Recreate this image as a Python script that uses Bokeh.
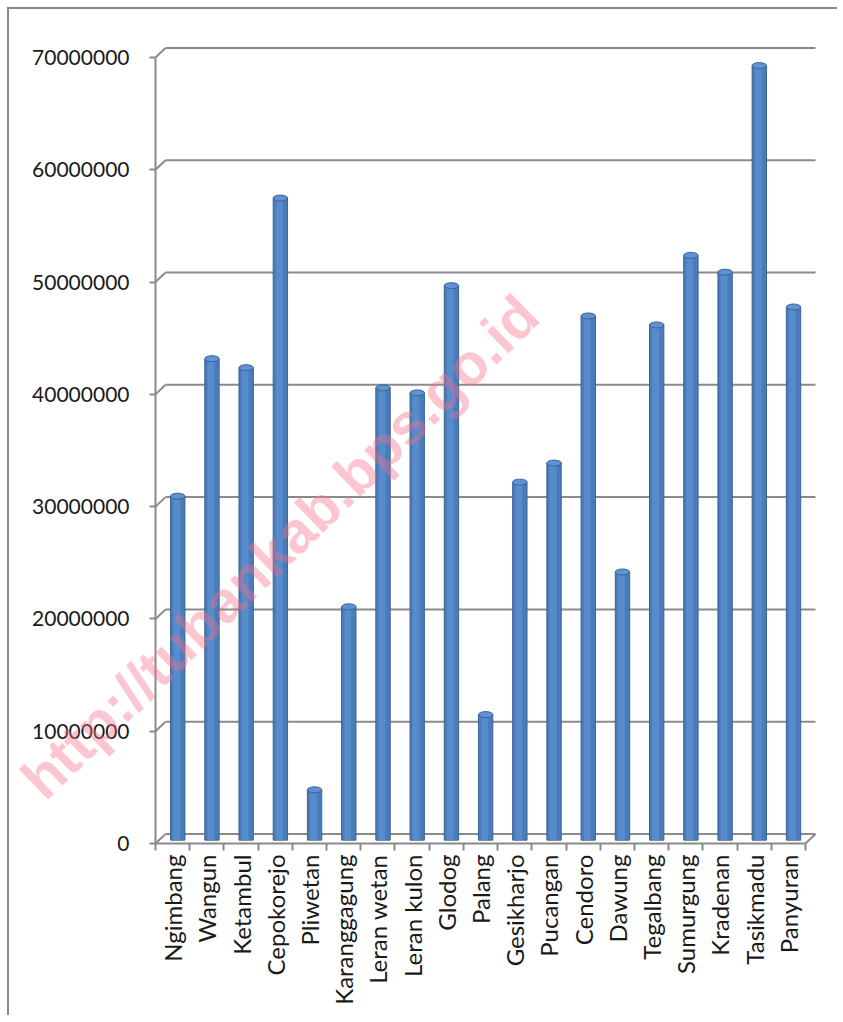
import math
import numpy as np
from bokeh.plotting import figure
from bokeh.models import FixedTicker, Label, ColumnDataSource, Range1d
from bokeh.embed import file_html
from bokeh.resources import INLINE

categories = ["Ngimbang", "Wangun", "Ketambul", "Cepokorejo", "Pliwetan",
              "Karanggagung", "Leran wetan", "Leran kulon", "Glodog", "Palang",
              "Gesikharjo", "Pucangan", "Cendoro", "Dawung", "Tegalbang",
              "Sumurgung", "Kradenan", "Tasikmadu", "Panyuran"]
values = [30350000, 42600000, 41800000, 56900000, 4200000,
          20500000, 40000000, 39550000, 49100000, 10900000,
          31600000, 33300000, 46400000, 23600000, 45600000,
          51800000, 50300000, 68700000, 47200000]
y_ticks = [0, 10000000, 20000000, 30000000, 40000000, 50000000, 60000000, 70000000]
watermark = "http://tubankab.bps.go.id"

FONT = "Lato"
GRID = "#8a8a8a"
n = len(categories)
# oblique "3-D" look: back wall shifted right / up from the front axes
DX = 0.292          # category units
DY = 0.85e6         # value units
BAR_SHIFT = 0.15
BAR_BASE = 0.3e6
TOP_SHIFT = 0.58e6

centers = np.arange(n) + 0.5
bounds = np.arange(n + 1)
vals = np.array(values, dtype=float)
src = ColumnDataSource(dict(x=centers + BAR_SHIFT, xh=centers + BAR_SHIFT - 0.03,
                            top=vals + TOP_SHIFT))
ticks = np.array(y_ticks, dtype=float)

p = figure(x_range=Range1d(-4.268, 19.994), y_range=Range1d(-15.496e6, 74.275e6),
           width=830, height=1008, output_backend="svg", toolbar_location=None,
           min_border_left=0, min_border_right=0, min_border_top=0,
           min_border_bottom=0)
p.margin = (7, 0, 0, 7)
p.styles = {"border-left": "2px solid #8a8a8a", "border-top": "2px solid #8a8a8a"}
p.outline_line_color = None
p.background_fill_color = "white"
p.border_fill_color = "white"
p.xgrid.grid_line_color = None
p.ygrid.grid_line_color = None

# back-wall gridlines and their connectors to the front axis
p.segment(x0=DX, x1=n + DX, y0=ticks + DY, y1=ticks + DY,
          line_color=GRID, line_width=2)
p.segment(x0=0, x1=DX, y0=ticks, y1=ticks + DY, line_color=GRID, line_width=2)
p.segment(x0=[n], x1=[n + DX], y0=[0], y1=[DY], line_color=GRID, line_width=2)

# bars (cylinder-like)
p.vbar(x="x", top="top", bottom=BAR_BASE, width=0.42, source=src,
       fill_color="#4a7cba", line_color="#3a6396", line_width=1)
p.vbar(x="xh", top="top", bottom=BAR_BASE, width=0.2, source=src,
       fill_color="#5a8ed0", line_color=None, fill_alpha=0.8)
p.ellipse(x="x", y="top", width=0.42, height=6, height_units="screen",
          source=src, fill_color="#5f92d2", line_color="#3a6396", line_width=1)

# y axis, fixed at the first category boundary
yax = p.yaxis[0]
yax.fixed_location = 0
yax.bounds = (0, 70000000)
yax.ticker = FixedTicker(ticks=y_ticks)
yax.major_label_overrides = {t: str(t) for t in y_ticks}
yax.major_label_text_font = FONT
yax.major_label_text_font_size = "21px"
yax.major_label_text_color = "#1a1a1a"
yax.major_tick_out = 6
yax.major_tick_in = 0
yax.minor_tick_line_color = None
yax.major_label_standoff = 20
yax.axis_line_color = GRID
yax.axis_line_width = 2
yax.major_tick_line_color = GRID
yax.major_tick_line_width = 2

# x axis with category names, fixed at value 0
xax = p.xaxis[0]
xax.fixed_location = 0
xax.bounds = (0, n)
xax.ticker = FixedTicker(ticks=list(centers), minor_ticks=list(bounds))
xax.major_label_overrides = {float(c): name for c, name in zip(centers, categories)}
xax.major_label_orientation = math.pi / 2
xax.major_label_text_font = FONT
xax.major_label_text_font_size = "24px"
xax.major_label_text_color = "#1a1a1a"
xax.major_label_standoff = 4
xax.major_tick_line_color = None
xax.minor_tick_out = 7
xax.minor_tick_in = 0
xax.minor_tick_line_color = GRID
xax.minor_tick_line_width = 2
xax.axis_line_color = GRID
xax.axis_line_width = 2

wm = Label(x=270, y=471, x_units="screen", y_units="screen", text=watermark,
           angle=0.77, text_align="center", text_baseline="middle",
           text_font="Liberation Sans", text_font_style="bold",
           text_font_size="58px", text_color="#f5708a", text_alpha=0.4)
p.add_layout(wm)

open("out.html", "w").write(file_html(p, INLINE))
